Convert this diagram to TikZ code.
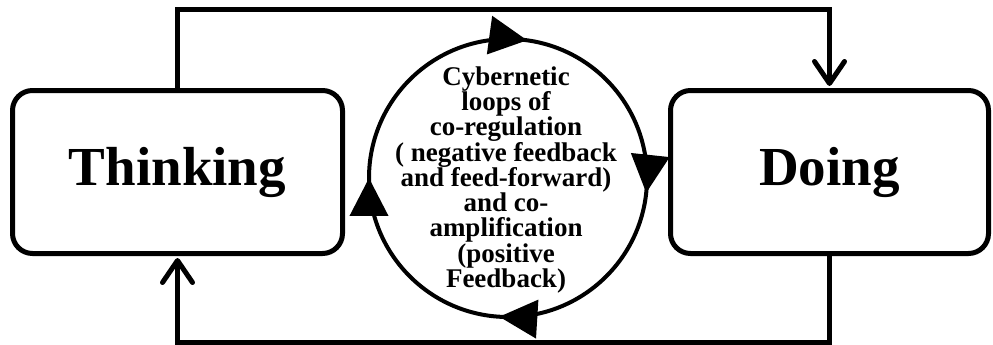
\documentclass[tikz,border=0pt]{standalone}
\usepackage{fontspec}
\setmainfont{Liberation Serif}
\usetikzlibrary{arrows.meta,decorations.markings}
\begin{document}
\begin{tikzpicture}[x=1pt,y=1pt,
  box/.style={draw, line width=5pt, rounded corners=20pt, minimum height=163pt,
    font=\fontsize{55}{60}\selectfont\bfseries, inner sep=0pt},
  conn/.style={line width=5pt, line join=miter,
    -{Straight Barb[length=22pt,width=30pt,line cap=round,line join=round]}, shorten >=2pt},
  loopline/.style={line width=4pt, postaction={decorate}, decoration={markings,
    mark=at position 0.022 with {\arrow{Triangle[length=38pt,width=38pt]}},
    mark=at position 0.267 with {\arrow{Triangle[length=38pt,width=38pt]}},
    mark=at position 0.51 with {\arrow{Triangle[length=38pt,width=38pt]}},
    mark=at position 0.75 with {\arrow{Triangle[length=38pt,width=38pt]}}}},
  looptext/.style={font=\bfseries\fontsize{27}{25.25}\selectfont, align=center, inner sep=0pt}
]
\useasboundingbox (0,0) rectangle (993,-345);
\node[box, minimum width=330pt] (think) at (177.5,-172) {Thinking};
\node[box, minimum width=318pt] (doing) at (829.5,-172) {Doing};
\draw[conn] (think.north) -- ++(0,78.5) -| (doing.north);
\draw[conn] (doing.south) -- ++(0,-86.5) -| (think.south);
\draw[loopline] (508,-178) ++(90:139) arc[start angle=90, end angle=-270, radius=139];
\node[looptext] (txt) at (506,-180) {Cybernetic\\ loops of\\ co-regulation\\ ( negative feedback\\ and feed-forward)\\ and co-\\ amplification\\ (positive\\ Feedback)};
\end{tikzpicture}
\end{document}
